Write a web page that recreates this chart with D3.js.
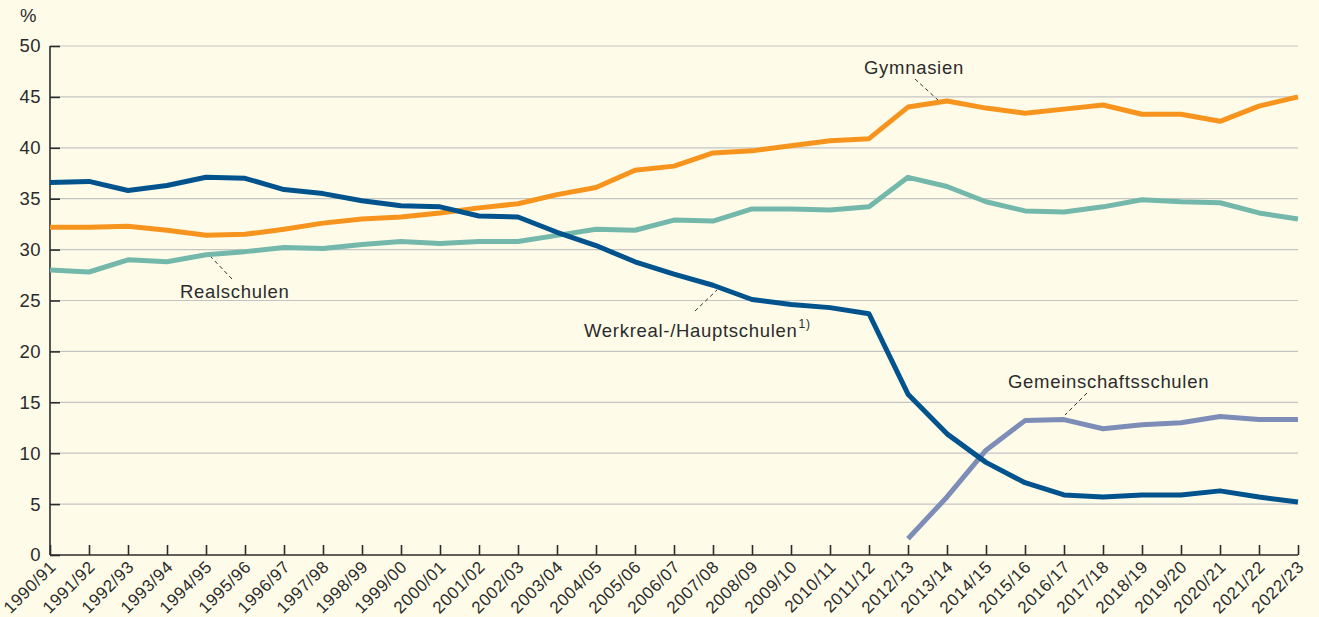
<!DOCTYPE html>
<html>
<head>
<meta charset="utf-8">
<script src="https://cdn.jsdelivr.net/npm/d3@7"></script>
<style>
  body { margin: 0; background: #fefce9; }
  svg { display: block; }
  text { font-family: "Liberation Sans", Arial, sans-serif; fill: #2b2b2b; }
</style>
</head>
<body>
<div id="chart"></div>
<script>
// school years (x categories)
var years = ["1990/91","1991/92","1992/93","1993/94","1994/95","1995/96","1996/97","1997/98",
  "1998/99","1999/00","2000/01","2001/02","2002/03","2003/04","2004/05","2005/06","2006/07",
  "2007/08","2008/09","2009/10","2010/11","2011/12","2012/13","2013/14","2014/15","2015/16",
  "2016/17","2017/18","2018/19","2019/20","2020/21","2021/22","2022/23"];

var gymnasien = [32.2,32.2,32.3,31.9,31.4,31.5,32.0,32.6,33.0,33.2,33.6,34.1,34.5,35.4,36.1,37.8,
  38.2,39.5,39.7,40.2,40.7,40.9,44.0,44.6,43.9,43.4,43.8,44.2,43.3,43.3,42.6,44.1,45.0];
var realschulen = [28.0,27.8,29.0,28.8,29.5,29.8,30.2,30.1,30.5,30.8,30.6,30.8,30.8,31.4,32.0,31.9,
  32.9,32.8,34.0,34.0,33.9,34.2,37.1,36.2,34.7,33.8,33.7,34.2,34.9,34.7,34.6,33.6,33.0];
var werkreal = [36.6,36.7,35.8,36.3,37.1,37.0,35.9,35.5,34.8,34.3,34.2,33.3,33.2,31.7,30.4,28.8,
  27.6,26.5,25.1,24.6,24.3,23.7,15.8,11.9,9.1,7.1,5.9,5.7,5.9,5.9,6.3,5.7,5.2];
// Gemeinschaftsschulen start in 2012/13
var gemeinschaft = [null,null,null,null,null,null,null,null,null,null,null,null,null,null,null,null,
  null,null,null,null,null,null,1.6,5.7,10.3,13.2,13.3,12.4,12.8,13.0,13.6,13.3,13.3];

var yTicks = [0,5,10,15,20,25,30,35,40,45,50];

var series = [
  {name: "Realschulen", values: realschulen, color: "#73b8ab"},
  {name: "Gymnasien", values: gymnasien, color: "#f7941e"},
  {name: "Gemeinschaftsschulen", values: gemeinschaft, color: "#7e8db8"},
  {name: "Werkreal", values: werkreal, color: "#00538c"}
];

var W = 1319, H = 617;
var margin = {top: 46, right: 21, bottom: 62, left: 50};
var width = W - margin.left - margin.right,
    height = H - margin.top - margin.bottom;

var svg = d3.select("#chart").append("svg")
  .attr("width", W).attr("height", H);
svg.append("rect").attr("width", W).attr("height", H).attr("fill", "#fefce9");

var g = svg.append("g").attr("transform", `translate(${margin.left},${margin.top})`);

var x = d3.scalePoint().domain(years).range([0, width]);
var y = d3.scaleLinear().domain([0, 50]).range([height, 0]);

// gridlines
g.selectAll(".grid").data(yTicks.filter(d => d > 0)).enter()
  .append("line")
  .attr("x1", 0).attr("x2", width)
  .attr("y1", d => y(d)).attr("y2", d => y(d))
  .attr("stroke", "#c4c4c4").attr("stroke-width", 1.2);

// y axis
var yAxis = g.append("g")
  .call(d3.axisRight(y).tickValues(yTicks).tickSize(10).tickFormat(d3.format("d")));
yAxis.select(".domain").attr("stroke", "#2b2b2b").attr("stroke-width", 1.6).attr("d", `M0,${height}V0`);
yAxis.selectAll(".tick line").attr("stroke", "#2b2b2b").attr("stroke-width", 1.6);
yAxis.selectAll("text").attr("text-anchor", "end").attr("x", -9).attr("font-size", 18.5)
  .attr("letter-spacing", 0.5).style("fill", "#2b2b2b");

// x axis
var xAxis = g.append("g").attr("transform", `translate(0,${height})`)
  .call(d3.axisTop(x).tickSize(10).tickFormat(""));
xAxis.select(".domain").attr("stroke", "#2b2b2b").attr("stroke-width", 1.6).attr("d", `M0,0H${width}`);
xAxis.selectAll(".tick line").attr("stroke", "#2b2b2b").attr("stroke-width", 1.6);

g.append("g").selectAll("text").data(years).enter()
  .append("text")
  .attr("transform", d => `translate(${x(d) + 7},${height + 13}) rotate(-45)`)
  .attr("text-anchor", "end")
  .attr("font-size", 17)
  .attr("letter-spacing", 0.6)
  .text(d => d);

// unit label
svg.append("text").attr("x", 20).attr("y", 22).attr("font-size", 18.5).text("%");

// lines
var line = d3.line()
  .defined(d => d != null)
  .x((d, i) => x(years[i]))
  .y(d => y(d));

g.selectAll(".series").data(series).enter()
  .append("path")
  .attr("fill", "none")
  .attr("stroke", d => d.color)
  .attr("stroke-width", 5)
  .attr("stroke-linejoin", "round")
  .attr("d", d => line(d.values));

// labels with dashed leaders
var labels = [
  {text: "Gymnasien", tx: 864, ty: 74, lx1: 915, ly1: 79, lx2: 938, ly2: 100},
  {text: "Realschulen", tx: 180, ty: 298, lx1: 232, ly1: 279, lx2: 211, ly2: 257},
  {text: "Werkreal-/Hauptschulen", sup: "1)", tx: 584, ty: 337, lx1: 695, ly1: 311, lx2: 717, ly2: 290},
  {text: "Gemeinschaftsschulen", tx: 1008, ty: 388, lx1: 1087, ly1: 393, lx2: 1065, ly2: 415}
];

labels.forEach(function(l) {
  svg.append("line")
    .attr("x1", l.lx1).attr("y1", l.ly1).attr("x2", l.lx2).attr("y2", l.ly2)
    .attr("stroke", "#333").attr("stroke-width", 1).attr("stroke-dasharray", "4,3");
  var t = svg.append("text").attr("x", l.tx).attr("y", l.ty).attr("font-size", 18.5)
    .attr("letter-spacing", 0.7).text(l.text);
  if (l.sup) {
    t.append("tspan").attr("dy", -9).attr("dx", 1).attr("font-size", 12).text(l.sup);
  }
});
</script>
</body>
</html>
